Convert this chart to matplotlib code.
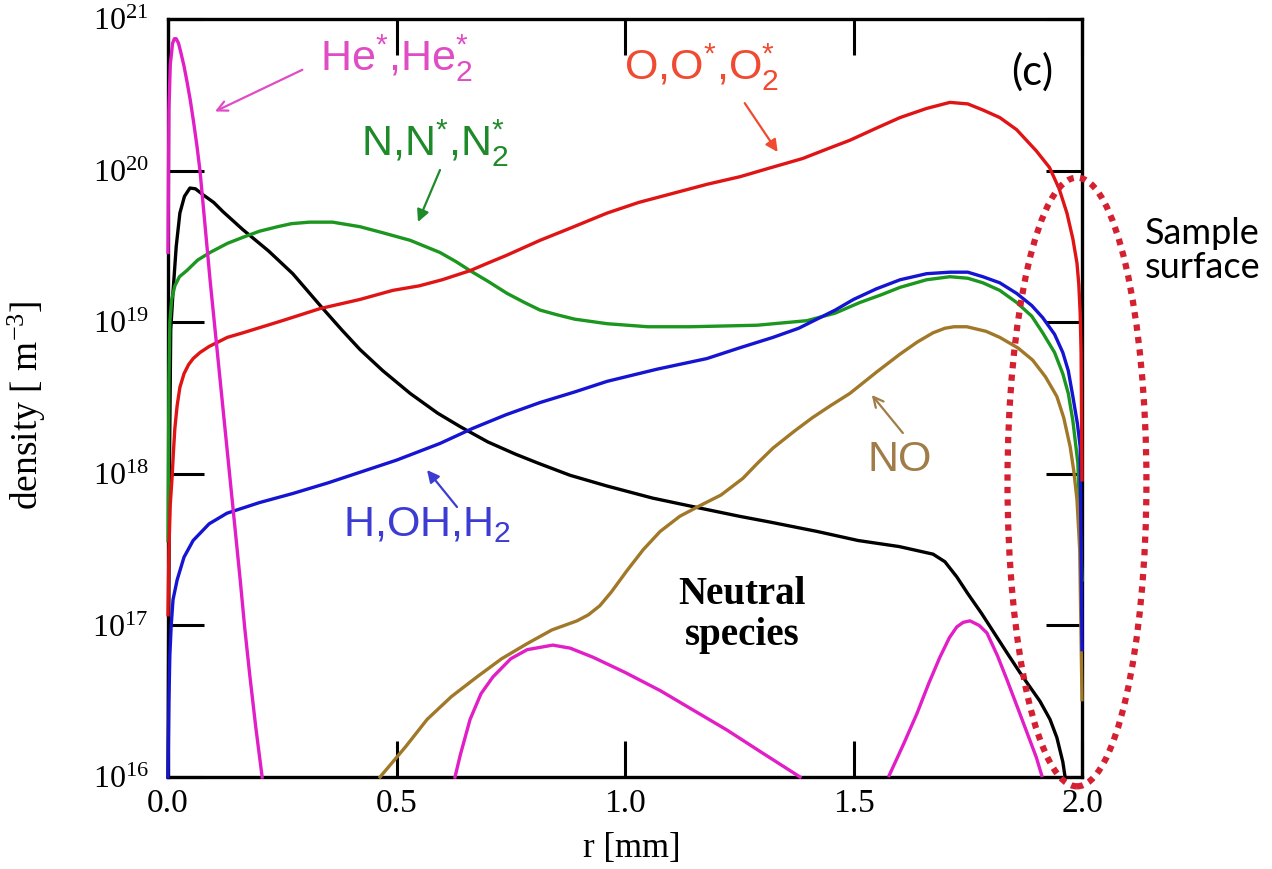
import numpy as np
import matplotlib
matplotlib.use("Agg")
import matplotlib.pyplot as plt
from matplotlib.patches import Ellipse

# ---- data: radial position r [mm] and log10 of density [m^-3] ----
r_he = [0.0, 0.002, 0.005, 0.010, 0.014, 0.018, 0.023, 0.028, 0.035, 0.042, 0.049, 0.056, 0.063, 0.070,
        0.081, 0.092, 0.103, 0.114, 0.125, 0.136, 0.147, 0.158, 0.168, 0.179, 0.192, 0.206,
        np.nan,
        0.628, 0.640, 0.661, 0.685, 0.711, 0.750, 0.786, 0.842, 0.880, 0.930, 1.000, 1.077, 1.150, 1.223,
        1.300, 1.383,
        np.nan,
        1.578, 1.610, 1.639, 1.665, 1.689, 1.710, 1.726, 1.740, 1.755, 1.775, 1.792, 1.815, 1.836, 1.860,
        1.880, 1.900, 1.912]
lg_he = [19.46, 20.40, 20.70, 20.84, 20.87, 20.87, 20.84, 20.78, 20.69, 20.58, 20.46, 20.32, 20.17, 20.00,
         19.64, 19.28, 18.95, 18.62, 18.29, 17.96, 17.63, 17.30, 16.98, 16.67, 16.33, 16.00,
         np.nan,
         16.00, 16.15, 16.38, 16.55, 16.66, 16.78, 16.84, 16.87, 16.85, 16.79, 16.69, 16.57, 16.44, 16.31,
         16.16, 16.00,
         np.nan,
         16.01, 16.22, 16.42, 16.62, 16.79, 16.92, 16.99, 17.02, 17.03, 17.00, 16.95, 16.80, 16.64, 16.45,
         16.29, 16.13, 16.01]

r_neu = [0.0, 0.003, 0.006, 0.011, 0.018, 0.026, 0.036, 0.048, 0.060, 0.077, 0.100, 0.120, 0.164, 0.220,
         0.273, 0.333, 0.380, 0.420, 0.470, 0.530, 0.590, 0.640, 0.700, 0.760, 0.810, 0.880, 0.960, 1.060,
         1.170, 1.250, 1.320, 1.420, 1.510, 1.600, 1.674, 1.700, 1.726, 1.750, 1.780, 1.810, 1.840, 1.864,
         1.880, 1.908, 1.930, 1.945, 1.958, 1.963]
lg_neu = [16.00, 18.00, 18.95, 19.20, 19.50, 19.72, 19.83, 19.885, 19.88, 19.84, 19.79, 19.73, 19.61, 19.47,
          19.32, 19.11, 18.95, 18.82, 18.68, 18.53, 18.40, 18.31, 18.21, 18.13, 18.07, 17.99, 17.92, 17.84,
          17.77, 17.72, 17.68, 17.62, 17.56, 17.52, 17.47, 17.42, 17.32, 17.21, 17.08, 16.94, 16.80, 16.69,
          16.62, 16.50, 16.38, 16.26, 16.10, 16.00]

r_n = [0.0, 0.002, 0.004, 0.008, 0.015, 0.025, 0.041, 0.065, 0.092, 0.130, 0.164, 0.200, 0.240, 0.270,
       0.310, 0.360, 0.420, 0.470, 0.530, 0.595, 0.630, 0.661, 0.700, 0.742, 0.780, 0.814, 0.850, 0.890,
       0.961, 1.050, 1.142, 1.289, 1.398, 1.460, 1.514, 1.560, 1.602, 1.660, 1.711, 1.750, 1.783, 1.820,
       1.857, 1.890, 1.914, 1.940, 1.958, 1.970, 1.980, 1.991, 2.0]
lg_n = [17.56, 18.60, 19.00, 19.15, 19.24, 19.30, 19.34, 19.41, 19.46, 19.52, 19.56, 19.60, 19.63, 19.65,
        19.66, 19.66, 19.63, 19.59, 19.54, 19.46, 19.40, 19.34, 19.27, 19.19, 19.13, 19.08, 19.05, 19.02,
        18.99, 18.97, 18.97, 18.98, 19.01, 19.06, 19.13, 19.18, 19.23, 19.28, 19.30, 19.29, 19.26, 19.21,
        19.13, 19.04, 18.93, 18.80, 18.66, 18.53, 18.35, 18.07, 17.30]

r_o = [0.0, 0.002, 0.005, 0.009, 0.012, 0.015, 0.020, 0.026, 0.035, 0.045, 0.055, 0.070, 0.090, 0.110,
       0.130, 0.164, 0.250, 0.333, 0.420, 0.492, 0.550, 0.600, 0.661, 0.700, 0.740, 0.814, 0.880, 0.961,
       1.030, 1.105, 1.180, 1.252, 1.320, 1.389, 1.440, 1.492, 1.550, 1.602, 1.660, 1.711, 1.750, 1.783,
       1.820, 1.857, 1.900, 1.929, 1.950, 1.967, 1.980, 1.989, 1.993, 1.996, 1.998, 2.0]
lg_o = [17.07, 17.50, 17.80, 17.98, 18.15, 18.30, 18.45, 18.57, 18.66, 18.72, 18.76, 18.80, 18.84, 18.87,
        18.90, 18.93, 19.01, 19.09, 19.15, 19.21, 19.24, 19.28, 19.34, 19.39, 19.44, 19.54, 19.62, 19.72,
        19.79, 19.85, 19.91, 19.96, 20.02, 20.08, 20.14, 20.20, 20.28, 20.35, 20.41, 20.45, 20.44, 20.40,
        20.35, 20.27, 20.13, 20.02, 19.88, 19.72, 19.55, 19.39, 19.25, 19.06, 18.80, 17.96]

r_h = [0.0, 0.002, 0.004, 0.007, 0.011, 0.020, 0.035, 0.055, 0.090, 0.129, 0.200, 0.273, 0.350, 0.420,
       0.500, 0.595, 0.667, 0.740, 0.814, 0.890, 0.961, 1.070, 1.179, 1.250, 1.324, 1.380, 1.420, 1.460,
       1.500, 1.550, 1.602, 1.660, 1.711, 1.750, 1.783, 1.820, 1.857, 1.890, 1.914, 1.940, 1.958, 1.970,
       1.980, 1.990, 1.996, 2.0]
lg_h = [16.00, 16.50, 16.80, 17.00, 17.17, 17.30, 17.45, 17.56, 17.67, 17.74, 17.81, 17.87, 17.94, 18.01,
        18.09, 18.20, 18.30, 18.39, 18.47, 18.54, 18.61, 18.69, 18.76, 18.83, 18.90, 18.96, 19.02, 19.08,
        19.15, 19.22, 19.28, 19.32, 19.33, 19.33, 19.30, 19.26, 19.19, 19.11, 19.03, 18.92, 18.80, 18.68,
        18.51, 18.33, 18.18, 16.84]

r_no = [0.464, 0.520, 0.567, 0.620, 0.676, 0.730, 0.786, 0.840, 0.895, 0.920, 0.945, 0.970, 1.004, 1.040,
        1.077, 1.120, 1.164, 1.210, 1.258, 1.290, 1.324, 1.370, 1.410, 1.450, 1.492, 1.550, 1.602, 1.640,
        1.674, 1.700, 1.720, 1.748, 1.790, 1.820, 1.860, 1.892, 1.920, 1.945, 1.960, 1.974, 1.982, 1.989,
        1.995, 2.0]
lg_no = [16.00, 16.20, 16.38, 16.53, 16.66, 16.78, 16.88, 16.97, 17.03, 17.07, 17.13, 17.22, 17.36, 17.50,
         17.62, 17.72, 17.79, 17.86, 17.97, 18.07, 18.17, 18.28, 18.37, 18.45, 18.53, 18.67, 18.79, 18.87,
         18.93, 18.96, 18.97, 18.97, 18.94, 18.90, 18.83, 18.75, 18.64, 18.51, 18.37, 18.18, 18.02, 17.83,
         17.50, 16.51]

x_ticks = [0.0, 0.5, 1.0, 1.5, 2.0]
x_ticklabels = ["0.0", "0.5", "1.0", "1.5", "2.0"]
y_exponents = [16, 17, 18, 19, 20, 21]

# ---- styling ----
C_HE = "#e21ec6"
C_N = "#1b961e"
C_O = "#e01414"
C_H = "#1414d2"
C_NO = "#a07828"
C_NEU = "#000000"

SERIF = ["Liberation Serif", "DejaVu Serif"]
SANS = ["Liberation Sans", "DejaVu Sans"]

fig = plt.figure(figsize=(12.72, 8.69), dpi=100)
ax = fig.add_axes([168 / 1272, 1 - 777 / 869, 914 / 1272, 758 / 869])

lw = 2.4
series = [
    (r_neu, lg_neu, C_NEU, 3.0),
    (r_n, lg_n, C_N, 3.1),
    (r_no, lg_no, C_NO, 3.2),
    (r_h, lg_h, C_H, 3.3),
    (r_o, lg_o, C_O, 3.4),
    (r_he, lg_he, C_HE, 3.5),
]
for r, lg, c, z in series:
    ax.plot(r, np.power(10.0, np.asarray(lg, dtype=float)), color=c, lw=lw,
            zorder=z, clip_on=False, solid_joinstyle="round")

ax.set_yscale("log")
ax.set_xlim(0.0, 2.0)
ax.set_ylim(1e16, 1e21)

ax.set_xticks(x_ticks)
ax.set_xticklabels(x_ticklabels, family=SERIF, fontsize=24)
ax.set_yticks([10.0 ** e for e in y_exponents])
ax.set_yticklabels([r"$\mathregular{10^{%d}}$" % e for e in y_exponents], family=SERIF, fontsize=23)
ax.yaxis.set_minor_locator(matplotlib.ticker.NullLocator())
ax.xaxis.set_minor_locator(matplotlib.ticker.NullLocator())
ax.tick_params(axis="both", which="major", direction="in", length=26, width=2.2,
               top=True, right=True)
ax.tick_params(axis="x", pad=8)
ax.tick_params(axis="y", pad=14)
for s in ax.spines.values():
    s.set_linewidth(2.4)

fig.text(27 / 1272, 1 - 405 / 869, r"density [ m$\mathregular{^{-3}}$]", rotation=90,
         family=SERIF, fontsize=27, ha="center", va="center")
fig.text(632 / 1272, 1 - 849 / 869, "r [mm]", family=SERIF, fontsize=25, ha="center", va="center")


def arrow(tail, tip, color, head="-|>"):
    ax.annotate("", xy=tip, xytext=tail, xycoords="axes fraction", textcoords="axes fraction",
                arrowprops=dict(arrowstyle=head, color=color, lw=1.6, shrinkA=0, shrinkB=0,
                                mutation_scale=18), zorder=6)


# ---- species labels with arrows ----
LABEL_SIZE = 31
ax.text(0.250, 0.949, r"He$\mathregular{^{*}}$,He$\mathregular{_{2}^{*}}$", transform=ax.transAxes,
        family=SANS, fontsize=LABEL_SIZE, color="#e04cc4", ha="center", va="center", zorder=6)
arrow((0.147, 0.933), (0.0514, 0.878), "#e04cc4", head="->")

ax.text(0.292, 0.836, r"N,N$\mathregular{^{*}}$,N$\mathregular{_{2}^{*}}$", transform=ax.transAxes,
        family=SANS, fontsize=LABEL_SIZE, color="#1f8a2a", ha="center", va="center", zorder=6)
arrow((0.2976, 0.8008), (0.2735, 0.7322), "#1f8a2a")

ax.text(0.584, 0.937, r"O,O$\mathregular{^{*}}$,O$\mathregular{_{2}^{*}}$", transform=ax.transAxes,
        family=SANS, fontsize=LABEL_SIZE, color="#f04a30", ha="center", va="center", zorder=6)
arrow((0.631, 0.889), (0.667, 0.8245), "#f04a30")

ax.text(0.283, 0.332, r"H,OH,H$\mathregular{_{2}}$", transform=ax.transAxes,
        family=SANS, fontsize=LABEL_SIZE, color="#3c3cd2", ha="center", va="center", zorder=6)
arrow((0.3162, 0.3562), (0.2834, 0.405), "#3c3cd2")

ax.text(0.800, 0.418, "NO", transform=ax.transAxes,
        family=SANS, fontsize=LABEL_SIZE, color="#a07c48", ha="center", va="center", zorder=6)
arrow((0.804, 0.4538), (0.770, 0.504), "#a07c48", head="->")

ax.text(0.628, 0.214, "Neutral\nspecies", transform=ax.transAxes, family=SERIF,
        fontweight="bold", fontsize=28, ha="center", va="center", linespacing=1.15, zorder=6)

ax.text(0.945, 0.930, "(c)", transform=ax.transAxes, family=["Lato", "DejaVu Sans"],
        fontsize=30, ha="center", va="center", zorder=6)

ax.text(1.069, 0.695, "Sample\nsurface", transform=ax.transAxes, family=["Lato", "DejaVu Sans"],
        fontsize=26, ha="left", va="center", linespacing=1.05, clip_on=False)

# dotted outline around the sample surface
ell = Ellipse((0.9945, 0.3892), 0.152, 0.803, transform=ax.transAxes, fill=False,
              edgecolor="#d42030", lw=4.5, linestyle=(0, (1, 1)), clip_on=False, zorder=7)
ax.add_patch(ell)

fig.savefig("out.png", dpi=100)
